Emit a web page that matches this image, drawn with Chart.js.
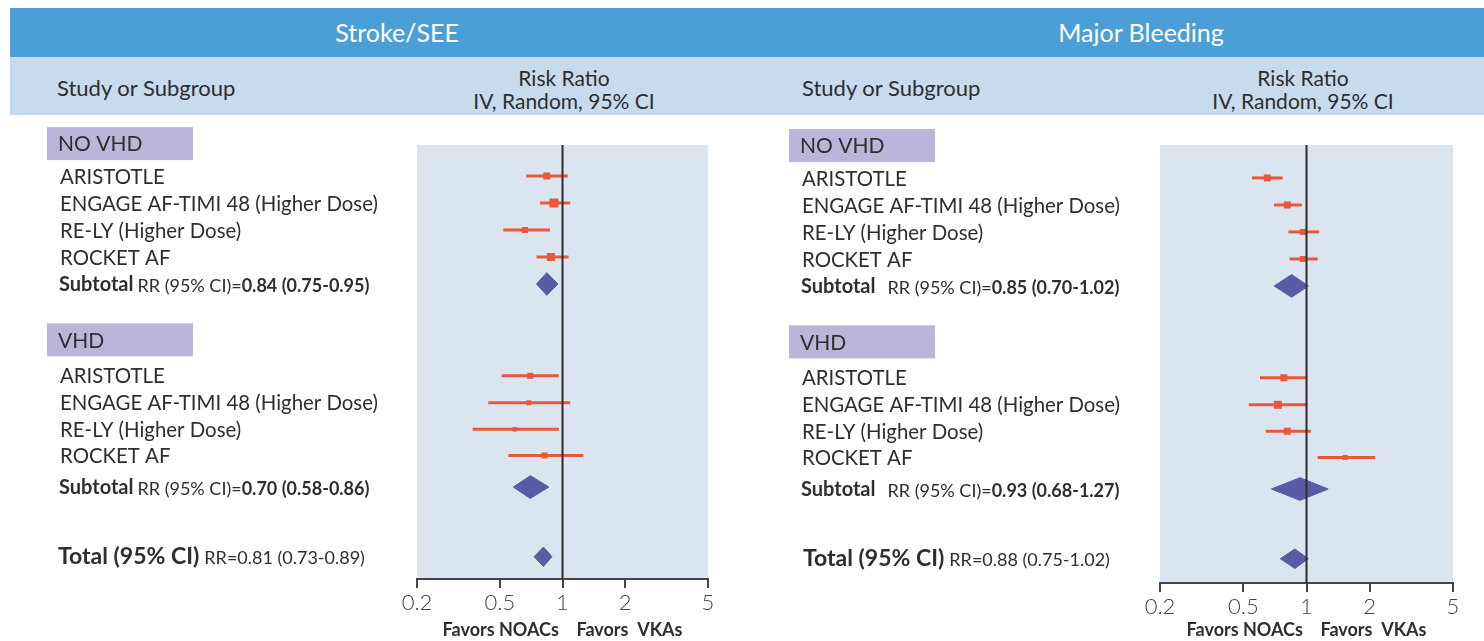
<!DOCTYPE html>
<html>
<head>
<meta charset="utf-8">
<script src="https://cdn.jsdelivr.net/npm/chart.js@4.4.1/dist/chart.umd.min.js"></script>
<style>
  html, body { margin: 0; padding: 0; background: #fff; }
  body { width: 1484px; height: 641px; position: relative; overflow: hidden; font-family: Lato, sans-serif; color: #333; }
  .bar { position: absolute; left: 10px; top: 8px; width: 1474px; height: 49px; background: #4b9fd8; }
  .sub { position: absolute; left: 10px; top: 57px; width: 1474px; height: 58px; background: #c6dbee; }
  .c { position: absolute; white-space: nowrap; transform: translate(-50%, -50%); text-align: center; }
  .l { position: absolute; white-space: nowrap; transform: translate(0, -50%); }
  .head { color: #fff; font-size: 25px; }
  .col { font-size: 21px; line-height: 23px; color: #2e2e2e; }
  .panel { position: absolute; top: 115px; width: 742px; height: 526px; }
</style>
</head>
<body>
<div class="bar"></div>
<div class="sub"></div>
<div class="c head" style="left:397px; top:32px;">Stroke/SEE</div>
<div class="c head" style="left:1141px; top:32px;">Major Bleeding</div>
<div class="l col" style="left:57px; top:87px; font-size:22px;">Study or Subgroup</div>
<div class="c col" style="left:564px; top:89px;">Risk Ratio<br>IV, Random, 95% CI</div>
<div class="l col" style="left:802px; top:87px; font-size:22px;">Study or Subgroup</div>
<div class="c col" style="left:1303px; top:89px;">Risk Ratio<br>IV, Random, 95% CI</div>

<div class="panel" style="left:0;"><canvas id="strokeChart"></canvas></div>
<div class="panel" style="left:742px;"><canvas id="bleedChart"></canvas></div>

<script>
document.addEventListener("DOMContentLoaded", function () {

    const studies = ['ARISTOTLE', 'ENGAGE AF-TIMI 48 (Higher Dose)', 'RE-LY (Higher Dose)', 'ROCKET AF'];
    const groupNames = ['NO VHD', 'VHD'];
    const xTicks = [0.2, 0.5, 1, 2, 5];

    // row slots on the y axis (1 unit = one text line)
    const groupRows = [-0.2, 7.07];
    const noVhdRows = [1, 2, 3, 4];
    const vhdRows = [8.4, 9.4, 10.38, 11.35];
    const subtotalRows = [5, 12.52];
    const totalRow = 15.1;

    // Stroke/SEE
    const strokeNoVhdRR = [0.84, 0.91, 0.66, 0.88];
    const strokeNoVhdLo = [0.67, 0.78, 0.52, 0.75];
    const strokeNoVhdHi = [1.06, 1.09, 0.87, 1.07];
    const strokeVhdRR = [0.70, 0.69, 0.59, 0.82];
    const strokeVhdLo = [0.51, 0.44, 0.37, 0.55];
    const strokeVhdHi = [0.96, 1.09, 0.96, 1.26];
    const strokeSubRR = [0.84, 0.70];
    const strokeSubLo = [0.75, 0.58];
    const strokeSubHi = [0.95, 0.86];
    const strokeTotal = [0.81, 0.73, 0.89];

    // Major bleeding
    const bleedNoVhdRR = [0.65, 0.81, 0.96, 0.96];
    const bleedNoVhdLo = [0.55, 0.70, 0.82, 0.83];
    const bleedNoVhdHi = [0.77, 0.95, 1.15, 1.13];
    const bleedVhdRR = [0.78, 0.73, 0.81, 1.53];
    const bleedVhdLo = [0.60, 0.53, 0.64, 1.13];
    const bleedVhdHi = [1.01, 1.01, 1.05, 2.13];
    const bleedSubRR = [0.85, 0.93];
    const bleedSubLo = [0.70, 0.68];
    const bleedSubHi = [1.02, 1.27];
    const bleedTotal = [0.88, 0.75, 1.02];

    const colors = {
        ink: '#2b2b2b',
        axis: '#444444',
        text: '#2e2e2e',
        plotBg: '#dbe5f0',
        groupBox: '#b9b6d9',
        study: '#e8593b',
        pooled: '#5a5aa5'
    };

    // square sizes (px) for each study marker
    const strokeBox = [7, 9, 6, 8, 6, 5, 4.5, 6];
    const bleedBox = [7, 7, 6, 6, 7, 8, 7, 5];

    const fmt = (rr, lo, hi) => rr.toFixed(2) + ' (' + lo.toFixed(2) + '-' + hi.toFixed(2) + ')';

    function diamond(rr, lo, hi, y, h) {
        return {
            data: [{x: lo, y: y}, {x: rr, y: y - h}, {x: hi, y: y}, {x: rr, y: y + h}, {x: lo, y: y}],
            fill: 'shape',
            backgroundColor: colors.pooled,
            borderColor: colors.pooled,
            borderWidth: 1,
            pointRadius: 0,
            tension: 0
        };
    }

    function makePanel(id, p) {
        const rows = noVhdRows.concat(vhdRows);
        const rr = p.groups[0].rr.concat(p.groups[1].rr);
        const lo = p.groups[0].lo.concat(p.groups[1].lo);
        const hi = p.groups[0].hi.concat(p.groups[1].hi);

        const datasets = [];
        // line of no effect
        datasets.push({
            data: [{x: 1, y: p.yMin}, {x: 1, y: p.yMax}],
            borderColor: colors.ink, borderWidth: 2, pointRadius: 0
        });
        // confidence intervals
        rr.forEach((v, i) => {
            datasets.push({
                data: [{x: lo[i], y: rows[i]}, {x: hi[i], y: rows[i]}],
                borderColor: colors.study, borderWidth: 3, pointRadius: 0
            });
        });
        // point estimates
        datasets.push({
            type: 'scatter',
            data: rr.map((v, i) => ({x: v, y: rows[i]})),
            pointStyle: 'rect',
            pointRadius: p.box.map(s => s / Math.SQRT2),
            backgroundColor: colors.study,
            borderWidth: 0
        });
        // pooled estimates
        p.sub.rr.forEach((v, i) => {
            datasets.push(diamond(v, p.sub.lo[i], p.sub.hi[i], subtotalRows[i], 0.42));
        });
        datasets.push(diamond(p.total[0], p.total[1], p.total[2], totalRow, 0.36));

        const labelsPlugin = {
            id: 'forestLabels',
            beforeDraw(chart) {
                const a = chart.chartArea;
                chart.ctx.save();
                chart.ctx.fillStyle = colors.plotBg;
                chart.ctx.fillRect(a.left, a.top, a.right - a.left, a.bottom - a.top);
                chart.ctx.restore();
            },
            afterDraw(chart) {
                const ctx = chart.ctx;
                const ys = chart.scales.y;
                ctx.save();
                ctx.textBaseline = 'middle';
                ctx.textAlign = 'left';
                [noVhdRows, vhdRows].forEach((grpRows, gi) => {
                    const gy = ys.getPixelForValue(groupRows[gi]);
                    ctx.fillStyle = colors.groupBox;
                    ctx.fillRect(47, gy - 16.5, 146, 33);
                    ctx.fillStyle = colors.text;
                    ctx.font = '21px Lato';
                    ctx.fillText(groupNames[gi], 58, gy + 1);

                    ctx.font = '20.4px Lato';
                    studies.forEach((s, i) => ctx.fillText(s, 60, ys.getPixelForValue(grpRows[i]) + 1));

                    const sy = ys.getPixelForValue(subtotalRows[gi]) + 1;
                    let x = 59;
                    ctx.font = 'bold 20px Lato';
                    ctx.fillText('Subtotal', x, sy);
                    x += ctx.measureText('Subtotal').width + p.gap;
                    ctx.font = '18px Lato';
                    ctx.fillText('RR (95% CI)=', x, sy + 1);
                    x += ctx.measureText('RR (95% CI)=').width;
                    ctx.font = 'bold 18px Lato';
                    ctx.fillText(fmt(p.sub.rr[gi], p.sub.lo[gi], p.sub.hi[gi]), x, sy + 1);
                });
                const ty = ys.getPixelForValue(totalRow);
                let x = p.totalX;
                ctx.font = 'bold 23px Lato';
                ctx.fillText('Total (95% CI)', x, ty);
                x += ctx.measureText('Total (95% CI)').width + 5;
                ctx.font = '18px Lato';
                ctx.fillText('RR=' + fmt(p.total[0], p.total[1], p.total[2]), x, ty + 1);
                ctx.restore();
            }
        };

        return new Chart(document.getElementById(id), {
            type: 'line',
            data: {datasets: datasets},
            plugins: [labelsPlugin],
            options: {
                responsive: true,
                maintainAspectRatio: false,
                animation: false,
                events: [],
                layout: {padding: {left: p.left, right: p.right, top: 30, bottom: 0}},
                plugins: {legend: {display: false}, tooltip: {enabled: false}},
                scales: {
                    x: {
                        type: 'logarithmic',
                        min: 0.2,
                        max: 5,
                        afterBuildTicks: s => { s.ticks = xTicks.map(v => ({value: v})); },
                        afterFit: s => { s.height = p.axisH; },
                        ticks: {
                            callback: v => String(v),
                            autoSkip: false,
                            maxRotation: 0,
                            padding: 2,
                            color: colors.axis,
                            font: {family: 'Lato', size: 22, weight: '300'}
                        },
                        grid: {drawOnChartArea: false, drawTicks: true, tickLength: 9, color: colors.axis, lineWidth: 2},
                        border: {display: true, color: colors.axis, width: 2},
                        title: {
                            display: true,
                            text: 'Favors NOACs    Favors  VKAs',
                            color: colors.text,
                            padding: 0,
                            font: {family: 'Lato', size: 18, weight: 'bold'}
                        }
                    },
                    y: {
                        type: 'linear',
                        reverse: true,
                        display: false,
                        min: p.yMin,
                        max: p.yMax
                    }
                }
            }
        });
    }

    makePanel('strokeChart', {
        groups: [
            {rr: strokeNoVhdRR, lo: strokeNoVhdLo, hi: strokeNoVhdHi},
            {rr: strokeVhdRR, lo: strokeVhdLo, hi: strokeVhdHi}
        ],
        sub: {rr: strokeSubRR, lo: strokeSubLo, hi: strokeSubHi},
        total: strokeTotal,
        box: strokeBox,
        left: 417, right: 34, axisH: 62,
        yMin: -0.148, yMax: 15.926,
        gap: 4, totalX: 58
    });

    makePanel('bleedChart', {
        groups: [
            {rr: bleedNoVhdRR, lo: bleedNoVhdLo, hi: bleedNoVhdHi},
            {rr: bleedVhdRR, lo: bleedVhdLo, hi: bleedVhdHi}
        ],
        sub: {rr: bleedSubRR, lo: bleedSubLo, hi: bleedSubHi},
        total: bleedTotal,
        box: bleedBox,
        left: 418, right: 31, axisH: 58,
        yMin: -0.22, yMax: 16.0,
        gap: 12, totalX: 61
    });

});
</script>
</body>
</html>
